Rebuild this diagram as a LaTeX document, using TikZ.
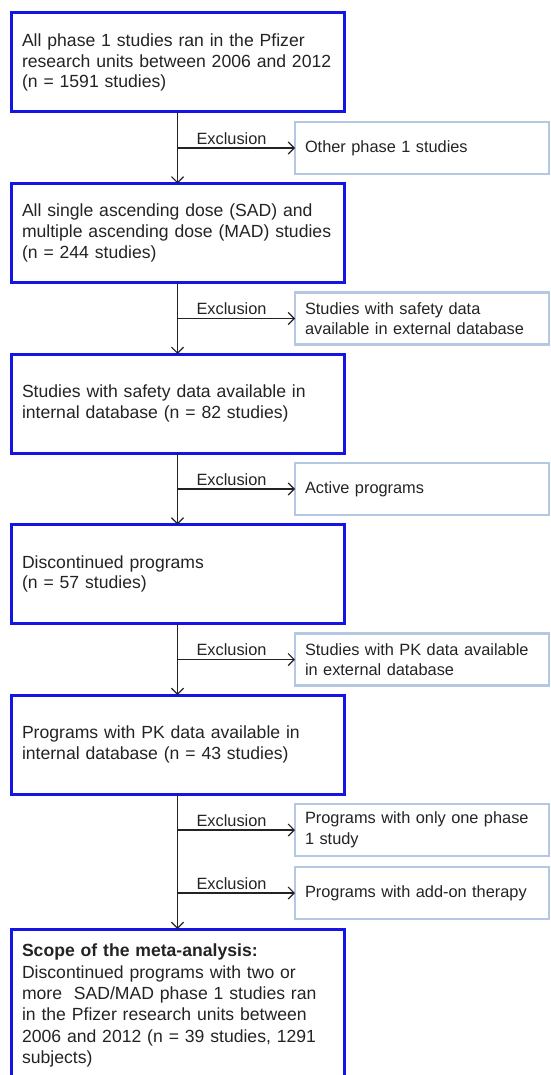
\documentclass[tikz,border=0pt]{standalone}
\usepackage{fontspec}
\setmainfont{Liberation Sans}
\usetikzlibrary{positioning}
\usetikzlibrary{arrows.meta}
\definecolor{boxblue}{RGB}{20,20,230}
\definecolor{exclblue}{RGB}{180,200,228}
\definecolor{inkgray}{RGB}{35,35,35}

\begin{document}
\begin{tikzpicture}[x=1pt,y=1pt,>={Straight Barb[length=6pt,width=12pt]},
  font=\fontsize{16.35}{20.5}\selectfont,text=inkgray,
  stage/.style={draw=boxblue,line width=3pt,text width=311pt,inner xsep=11pt,minimum height=99pt,align=left,outer sep=0pt,font=\fontsize{17.6}{20.6}\selectfont},
  excl/.style={draw=exclblue,line width=2.2pt,text width=234pt,inner xsep=10pt,minimum height=52pt,align=left,outer sep=0pt},
  flow/.style={->,draw=inkgray,line width=1.2pt},
  tag/.style={above,pos=0.46,inner sep=3pt}]

  \useasboundingbox (0,0) rectangle (550,-1075);

  \node[stage,anchor=north west] (s1) at (11,-13) {All phase 1 studies ran in the Pfizer\\ research units between 2006 and 2012\\ (n = 1591 studies)};
  \node[excl,below right=10pt and -49pt of s1.south east] (e1) {Other phase 1 studies};
  \node[stage,below=71.5pt of s1] (s2) {All single ascending dose (SAD) and\\ multiple ascending dose (MAD) studies\\ (n = 244 studies)};
  \node[excl,below right=10pt and -49pt of s2.south east] (e2) {Studies with safety data\\ available in external database};
  \node[stage,below=71.5pt of s2] (s3) {Studies with safety data available in\\ internal database (n = 82 studies)};
  \node[excl,below right=10pt and -49pt of s3.south east] (e3) {Active programs};
  \node[stage,below=71.5pt of s3] (s4) {Discontinued programs\\ (n = 57 studies)};
  \node[excl,below right=10pt and -49pt of s4.south east] (e4) {Studies with PK data available\\ in external database};
  \node[stage,below=71.5pt of s4] (s5) {Programs with PK data available in\\ internal database (n = 43 studies)};
  \node[excl,below right=10pt and -49pt of s5.south east] (e5) {Programs with only one phase\\ 1 study};
  \node[excl,below right=73pt and -49pt of s5.south east] (e6) {Programs with add-on therapy};
  \node[stage,minimum height=0pt,inner ysep=15pt,font=\fontsize{17.6}{21.4}\selectfont,below=135pt of s5] (s6) {\textbf{Scope of the meta-analysis:}\\ Discontinued programs with two or\\ more\ \ SAD/MAD phase 1 studies ran\\ in the Pfizer research units between\\ 2006 and 2012 (n = 39 studies, 1291\\ subjects)};

  % main flow
  \draw[flow] (s1) -- (s2);
  \draw[flow] (s2) -- (s3);
  \draw[flow] (s3) -- (s4);
  \draw[flow] (s4) -- (s5);
  \draw[flow] (s5.south) -- (s6.north);

  % exclusions
  \draw[flow] (s1.south |- e1.west) -- node[tag] {Exclusion} (e1.west);
  \draw[flow] (s2.south |- e2.west) -- node[tag] {Exclusion} (e2.west);
  \draw[flow] (s3.south |- e3.west) -- node[tag] {Exclusion} (e3.west);
  \draw[flow] (s4.south |- e4.west) -- node[tag] {Exclusion} (e4.west);
  \draw[flow] (s5.south |- e5.west) -- node[tag] {Exclusion} (e5.west);
  \draw[flow] (s5.south |- e6.west) -- node[tag] {Exclusion} (e6.west);

\end{tikzpicture}
\end{document}
